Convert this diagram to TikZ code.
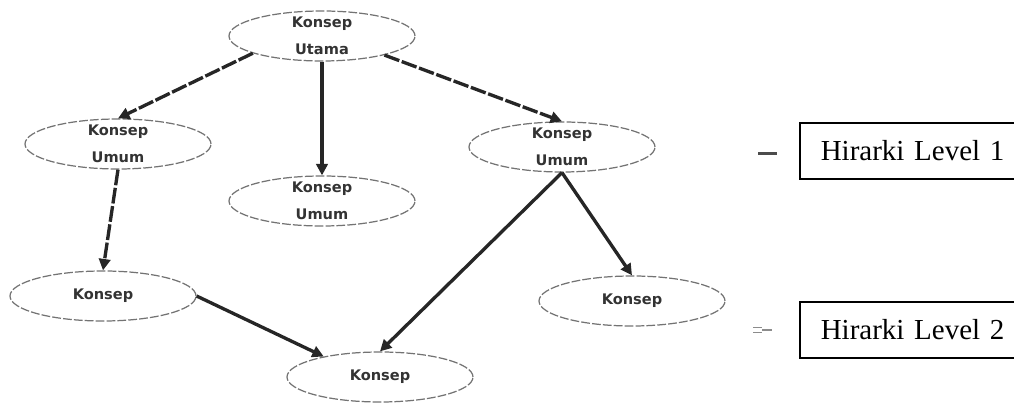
\documentclass[tikz,border=0pt]{standalone}
\usepackage{fontspec}
\setmainfont{Liberation Serif}
\newfontfamily\konsepfont{DejaVu Sans}
\usetikzlibrary{shapes.geometric,arrows.meta}

\begin{document}
\begin{tikzpicture}[scale=0.2]
\tikzstyle{every node}+=[inner sep=0pt]
\tikzstyle{konsep}=[ellipse, draw=black!55, line width=0.7pt, dash pattern=on 5pt off 1.2pt, minimum width=3.72cm, minimum height=1cm, inner ysep=-2pt, align=center, text=black!80, font=\konsepfont\bfseries\fontsize{8.3}{15.3}\selectfont]
\tikzstyle{panah}=[black!85, line width=1.9pt, -{Triangle[length=6.5pt,width=6.5pt]}]
\tikzstyle{panahputus}=[panah, dash pattern=on 9pt off 1.5pt]
\tikzstyle{level}=[draw, line width=0.9pt, anchor=west, text width=4.2cm, inner xsep=0.42cm, minimum height=1.12cm, align=left, font=\fontsize{16.5}{20}\selectfont]
\useasboundingbox (0,0) rectangle (101.4,-40.5);
\clip (0,0) rectangle (101.4,-40.5);
\node [konsep] (utama) at (32.2,-3.6) {Konsep\\Utama};
\node [konsep] (umumA) at (11.8,-14.4) {Konsep\\Umum};
\node [konsep] (umumB) at (32.2,-20.1) {Konsep\\Umum};
\node [konsep] (umumC) at (56.2,-14.7) {Konsep\\Umum};
\node [konsep] (konsepA) at (10.3,-29.6) {Konsep};
\node [konsep] (konsepB) at (63.2,-30.1) {Konsep};
\node [konsep] (konsepC) at (38.0,-37.7) {Konsep};
\draw [panahputus] (utama.194) -- (umumA.north);
\draw [panah] (utama.south) -- (umumB.north);
\draw [panahputus] (utama.343) -- (umumC.north);
\draw [panahputus] (umumA.south) -- (konsepA.north);
\draw [panah] (umumC.south) -- (konsepC.north);
\draw [panah] (umumC.south) -- (konsepB.north);
\draw [panah] (konsepA.east) -- (konsepC.160);
\node [level] (lvl1) at (79.9,-15.1) {Hirarki Level 1};
\node [level] (lvl2) at (79.9,-33.0) {Hirarki Level 2};
\draw [black!70, line width=1.6pt] (75.8,-15.35) -- (77.7,-15.35);
\draw [black!45, line width=1pt] (75.3,-32.75) -- (76.2,-32.75) (75.3,-33.25) -- (76.2,-33.25);
\draw [black!45, line width=1.4pt] (76.2,-33.0) -- (77.2,-33.0);
\end{tikzpicture}
\end{document}
